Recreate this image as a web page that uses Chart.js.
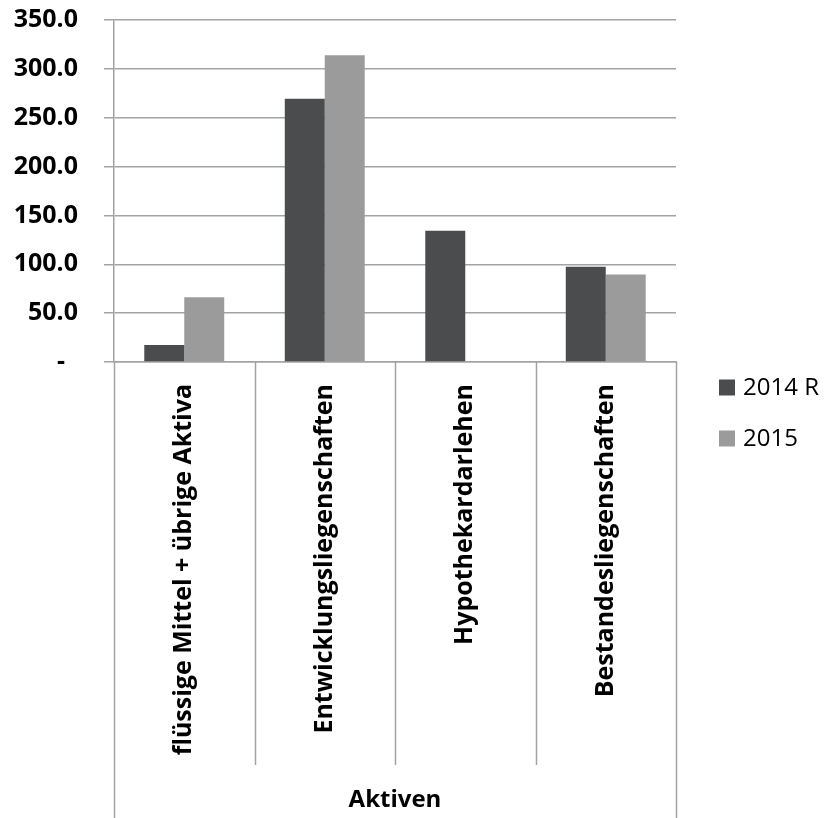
<!DOCTYPE html>
<html>
<head>
<meta charset="utf-8">
<script src="https://cdn.jsdelivr.net/npm/chart.js@4/dist/chart.umd.min.js"></script>
<style>
  html, body { margin: 0; padding: 0; background: #ffffff; }
  #wrap { width: 825px; height: 818px; position: relative; }
</style>
</head>
<body>
<div id="wrap"><canvas id="c" width="825" height="818"></canvas></div>
<script>
// Aktiven nach Kategorie (Mio.)
const categories = [
  'flüssige Mittel + übrige Aktiva',
  'Entwicklungsliegenschaften',
  'Hypothekardarlehen',
  'Bestandesliegenschaften'
];
const seriesLabels = ['2014 R', '2015'];
const values2014R = [17.4, 269.5, 134.4, 97.6];
const values2015 = [66.3, 313.9, 0, 89.5];
const groupLabel = 'Aktiven';
const yMin = 0;
const yMax = 350;
const yStep = 50;

const FONT = "'Open Sans', 'DejaVu Sans', sans-serif";
const GRID = '#a3a3a3';
const colors = ['#4b4c4e', '#9b9b9b'];

// Separator lines of the category axis and the legend at the right
const decorations = {
  id: 'decorations',
  afterDraw(chart) {
    const ctx = chart.ctx;
    const xs = chart.scales.x;
    const bottom = chart.height;
    const innerEnd = xs.bottom - 53;
    ctx.save();
    ctx.strokeStyle = GRID;
    ctx.lineWidth = 1.5;
    for (let i = 0; i <= categories.length; i++) {
      const x = Math.round(xs.getPixelForValue(i - 0.5)) + 0.5;
      const outer = (i === 0 || i === categories.length);
      ctx.beginPath();
      ctx.moveTo(x, xs.top);
      ctx.lineTo(x, outer ? bottom : innerEnd);
      ctx.stroke();
    }
    // legend
    const boxX = chart.chartArea.right + 43;
    const midY = chart.height / 2 + 4;
    const gap = 51;
    ctx.font = '24px ' + FONT;
    ctx.textBaseline = 'middle';
    ctx.textAlign = 'left';
    chart.data.datasets.forEach((ds, i) => {
      const cy = midY + (i - (chart.data.datasets.length - 1) / 2) * gap;
      ctx.fillStyle = ds.backgroundColor;
      ctx.fillRect(boxX, cy - 8, 16, 16);
      ctx.fillStyle = '#000000';
      ctx.fillText(ds.label, boxX + 24, cy + 1);
    });
    ctx.restore();
  }
};

new Chart(document.getElementById('c'), {
  type: 'bar',
  data: {
    labels: categories,
    datasets: [
      { label: seriesLabels[0], data: values2014R, backgroundColor: colors[0] },
      { label: seriesLabels[1], data: values2015, backgroundColor: colors[1] }
    ]
  },
  options: {
    responsive: false,
    animation: false,
    devicePixelRatio: 1,
    layout: { padding: { top: 20, right: 149, bottom: 0, left: 0 } },
    datasets: {
      bar: { categoryPercentage: 0.569, barPercentage: 1.0 }
    },
    plugins: {
      legend: { display: false },
      tooltip: { enabled: false }
    },
    scales: {
      x: {
        offset: true,
        afterFit(scale) {
          scale.height = 456;
          scale.paddingLeft = 0;
          scale.paddingRight = 0;
          scale.paddingTop = 0;
          scale.paddingBottom = 0;
        },
        grid: { display: false, drawOnChartArea: false },
        border: { display: true, color: GRID, width: 1.5 },
        ticks: {
          autoSkip: false,
          maxRotation: 90,
          minRotation: 90,
          padding: 14,
          color: '#000000',
          font: { family: FONT, size: 25, weight: 'bold' }
        },
        title: {
          display: true,
          text: groupLabel,
          color: '#000000',
          padding: { top: 0, bottom: 3 },
          font: { family: FONT, size: 24, weight: 'bold' }
        }
      },
      y: {
        min: yMin,
        max: yMax,
        afterFit(scale) {
          scale.width = 114;
          scale.paddingTop = 0;
          scale.paddingBottom = 0;
        },
        border: { display: true, color: GRID, width: 1.5 },
        grid: { color: GRID, lineWidth: 1.5, tickLength: 10, drawTicks: true },
        ticks: {
          stepSize: yStep,
          padding: 26,
          color: '#000000',
          font: { family: FONT, size: 25, weight: 'bold' },
          callback(v) { return v === 0 ? '-  ' : Number(v).toFixed(1); }
        }
      }
    }
  },
  plugins: [decorations]
});
</script>
</body>
</html>
